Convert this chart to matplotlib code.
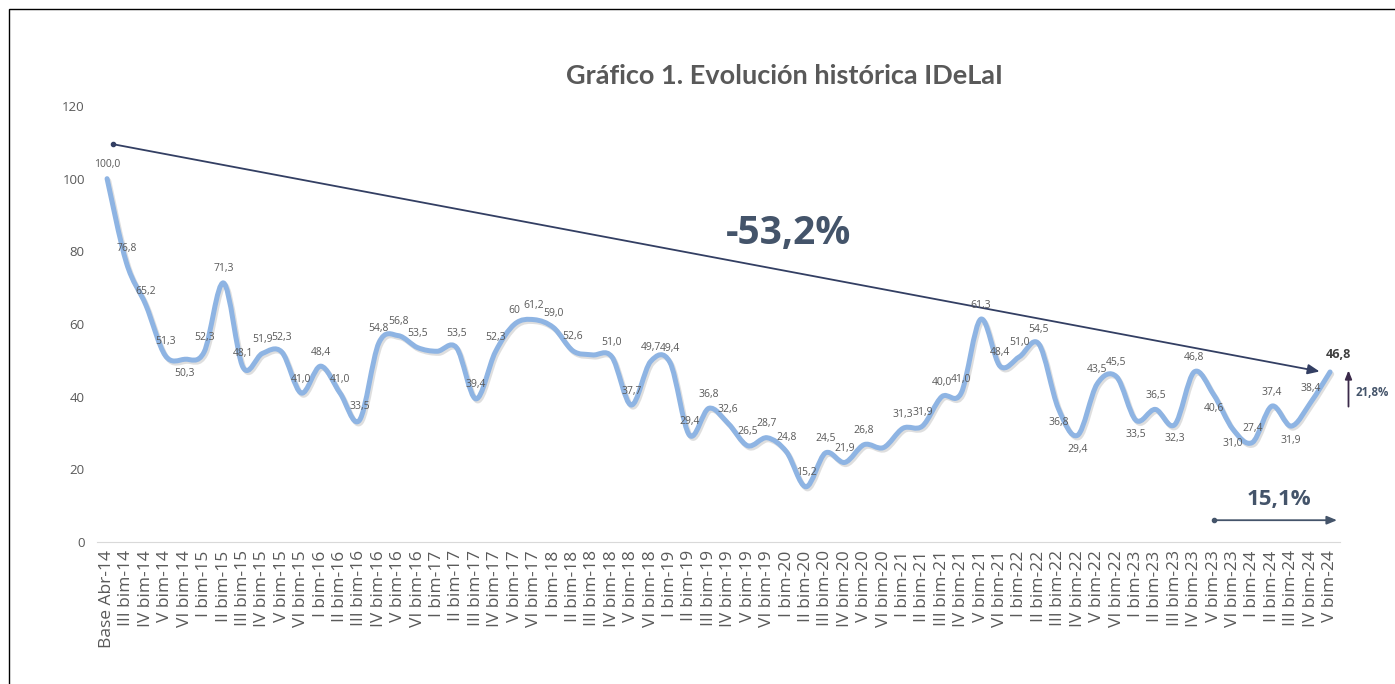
import numpy as np
import matplotlib
matplotlib.use("Agg")
import matplotlib.pyplot as plt
from matplotlib.path import Path
from matplotlib.patches import PathPatch, Rectangle
import matplotlib.patheffects as pe

# periodos (bimestres)
periods = ["Base Abr-14", "III bim-14", "IV bim-14", "V bim-14", "VI bim-14"]
for yy in range(15, 24):
    periods += [f"{b} bim-{yy}" for b in ["I", "II", "III", "IV", "V", "VI"]]
periods += [f"{b} bim-24" for b in ["I", "II", "III", "IV", "V"]]

idelai = [100.0, 76.8, 65.2, 51.3, 50.3, 52.3, 71.3, 48.1, 51.9, 52.3,
          41.0, 48.4, 41.0, 33.5, 54.8, 56.8, 53.5, 52.5, 53.5, 39.4,
          52.3, 60.0, 61.2, 59.0, 52.6, 51.5, 51.0, 37.7, 49.7, 49.4,
          29.4, 36.8, 32.6, 26.5, 28.7, 24.8, 15.2, 24.5, 21.9, 26.8,
          26.0, 31.3, 31.9, 40.0, 41.0, 61.3, 48.4, 51.0, 54.5, 36.8,
          29.4, 43.5, 45.5, 33.5, 36.5, 32.3, 46.8, 40.6, 31.0, 27.4,
          37.4, 31.9, 38.4, 46.8]

# etiquetas que no se muestran en el original / que van debajo
no_label = [17, 25, 40, 63]
below = [4, 49, 50, 53, 55, 57, 58, 61]

x = np.arange(len(idelai))
y = np.array(idelai)

fig = plt.figure(figsize=(13.95, 6.84), dpi=100)
ax = fig.add_axes([0.0698, 0.2076, 0.8906, 0.6374])

# marco de la figura
fig.patches.append(Rectangle((9 / 1395, -0.1), 1.2, 1.1 - 9 / 684, transform=fig.transFigure,
                             fill=False, edgecolor="black", linewidth=1.0))

# curva suavizada (bezier tipo Excel)
verts = [(x[0], y[0])]
codes = [Path.MOVETO]
n = len(x)
for i in range(n - 1):
    p0 = np.array([x[max(i - 1, 0)], y[max(i - 1, 0)]])
    p1 = np.array([x[i], y[i]])
    p2 = np.array([x[i + 1], y[i + 1]])
    p3 = np.array([x[min(i + 2, n - 1)], y[min(i + 2, n - 1)]])
    c1 = p1 + (p2 - p0) / 6
    c2 = p2 - (p3 - p1) / 6
    verts += [tuple(c1), tuple(c2), tuple(p2)]
    codes += [Path.CURVE4] * 3
patch = PathPatch(Path(verts, codes), facecolor="none", edgecolor="#8EB4E3", linewidth=3.6,
                  capstyle="round", joinstyle="round", zorder=3)
patch.set_path_effects([pe.SimpleLineShadow(offset=(1.2, -1.5), shadow_color="#7f7f7f", alpha=0.25),
                        pe.Normal()])
ax.add_patch(patch)

# etiquetas de datos
for i, v in enumerate(idelai):
    if i in no_label:
        continue
    txt = "60" if i == 21 else f"{v:.1f}".replace(".", ",")
    dy = -14 if i in below else 14
    ax.annotate(txt, (x[i], y[i]), xytext=(0, dy), textcoords="offset pixels",
                ha="center", va="center", fontsize=7.5, color="#595959", family="Open Sans", zorder=4)
ax.annotate("46,8", (x[-1], y[-1]), xytext=(8, 17), textcoords="offset pixels",
            ha="center", va="center", fontsize=9, fontweight="bold", color="#404040", family="Open Sans")

# flecha de tendencia total
ax.annotate("", xy=(62.6, 46.8), xytext=(0.3, 109.5),
            arrowprops=dict(arrowstyle="-|>,head_length=0.7,head_width=0.3", color="#333F63", lw=1.3))
ax.plot([0.3], [109.5], "o", color="#333F63", ms=3)
ax.text(35.1, 85, "-53,2%", ha="center", va="center", fontsize=28, fontweight="bold",
        color="#44546A", family="Open Sans")

# variacion anual
ax.annotate("", xy=(63.5, 6), xytext=(57, 6),
            arrowprops=dict(arrowstyle="-|>,head_length=0.6,head_width=0.25", color="#44546A", lw=1.3))
ax.plot([57], [6], "o", color="#44546A", ms=3)
ax.text(60.35, 11.6, "15,1%", ha="center", va="center", fontsize=16, fontweight="bold",
        color="#44546A", family="Open Sans")

# variacion bimestral
ax.annotate("", xy=(63.95, 48), xytext=(63.95, 36.5), annotation_clip=False,
            arrowprops=dict(arrowstyle="-|>,head_length=0.5,head_width=0.2", color="#3B2A4A", lw=1.3))
ax.text(64.3, 41.2, "21,8%", ha="left", va="center", fontsize=8.3, fontweight="bold",
        color="#44546A", family="Open Sans", clip_on=False)

ax.set_xlim(-0.5, 63.5)
ax.set_ylim(0, 120)
ax.set_yticks(range(0, 121, 20))
ax.set_xticks(x)
ax.set_xticklabels(periods, rotation=90, fontsize=12.5, color="#595959", family="Open Sans")
ax.tick_params(axis="both", length=0, colors="#595959")
ax.tick_params(axis="y", labelsize=9.5, pad=9)
ax.tick_params(axis="x", pad=6)
for lab in ax.get_yticklabels():
    lab.set_family("Open Sans")
for s in ["top", "right", "left"]:
    ax.spines[s].set_visible(False)
ax.spines["bottom"].set_color("#D9D9D9")

fig.text(785 / 1395, 1 - 76 / 684, "Gráfico 1. Evolución histórica IDeLaI", ha="center", va="center",
         fontsize=19.5, fontweight="bold", color="#595959", family="Lato")

fig.savefig("out.png", dpi=100)
